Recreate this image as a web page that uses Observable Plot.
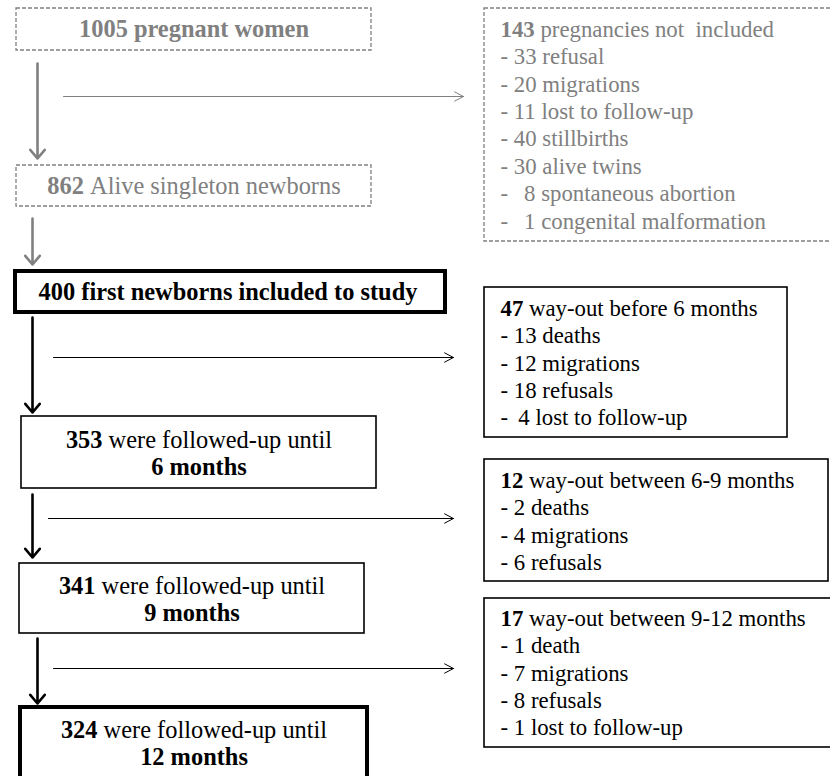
<!DOCTYPE html>
<html><head><meta charset="utf-8">
<script src="https://cdn.jsdelivr.net/npm/d3@7"></script>
<script src="https://cdn.jsdelivr.net/npm/@observablehq/plot@0.6"></script>
<style>html,body{margin:0;padding:0;background:#fff}</style>
</head><body><div id="chart"></div>
<script>
// ---------- data ----------
const enrolledCount = 1005;
const enrolledLabel = "pregnant women";
const aliveCount = 862;
const aliveLabel = "Alive singleton newborns";
const notIncludedCount = 143;
const notIncludedLabel = "pregnancies not\u00A0 included";
const notIncludedReasonCounts = [33, 20, 11, 40, 30, 8, 1];
const notIncludedReasonLabels = ["refusal", "migrations", "lost to follow-up", "stillbirths", "alive twins", "spontaneous abortion", "congenital malformation"];
const studyCount = 400;
const studyLabel = "first newborns included to study";
const followedCounts = [353, 341, 324];
const followedLabel = "were followed-up until";
const followedMonths = ["6 months", "9 months", "12 months"];
const wayOutCounts = [47, 12, 17];
const wayOutLabels = ["way-out before 6 months", "way-out between 6-9 months", "way-out between 9-12 months"];
const wayOutReasonCounts = [[13, 12, 18, 4], [2, 4, 6], [1, 7, 8, 1]];
const wayOutReasonLabels = [["deaths", "migrations", "refusals", "lost to follow-up"], ["deaths", "migrations", "refusals"], ["death", "migrations", "refusals", "lost to follow-up"]];

// ---------- layout (pixel frame of the flowchart) ----------
const W = 830, H = 776;
const GRAY = "#808080", BLACK = "#000";
const FS_MAIN = 24.4, FS_SIDE = 22.8;
const FF = '"Liberation Serif", "Times New Roman", serif';
const LINE_SIDE = 27.4, LINE_MAIN = 27;
const layout = {
  enrolled: {x1: 16, x2: 371, y1: 8, y2: 50, textY: 29},
  alive: {x1: 16, x2: 371, y1: 165, y2: 206, textY: 186},
  notIncluded: {x1: 484, x2: 834, y1: 8, y2: 241, textY: 29, gap1: "\u00A0\u00A0\u2009"},
  study: {x1: 15, x2: 445, y1: 271, y2: 312, textX: 227.5, textY: 292},
  followed: [
    {x1: 21, x2: 376, y1: 416, y2: 488, textY: 440},
    {x1: 19, x2: 364, y1: 563, y2: 633, textY: 586},
    {x1: 20, x2: 367, y1: 707, y2: 782, textY: 730}
  ],
  wayOut: [
    {x1: 484, x2: 787, y1: 287, y2: 437, textY: 308, gap1: "\u00A0\u2009"},
    {x1: 484, x2: 828, y1: 459, y2: 581, textY: 480, gap1: " "},
    {x1: 484, x2: 834, y1: 598, y2: 747, textY: 618, gap1: " "}
  ],
  sideTextX: 500,
  arrowsDown: [
    {x: 37, y1: 63, y2: 158, c: GRAY}, {x: 32, y1: 218, y2: 264, c: GRAY},
    {x: 32, y1: 317, y2: 412, c: BLACK}, {x: 32, y1: 494, y2: 557, c: BLACK},
    {x: 37, y1: 638, y2: 703, c: BLACK}
  ],
  arrowsRight: [
    {x1: 63, x2: 463, y: 96, c: GRAY}, {x1: 53, x2: 453, y: 357, c: BLACK},
    {x1: 48, x2: 453, y: 518, c: BLACK}, {x1: 53, x2: 453, y: 668, c: BLACK}
  ]
};

// ---------- text measurement for mixed bold/regular lines ----------
const ctx = document.createElement("canvas").getContext("2d");
function tw(t, bold, fs) { ctx.font = `${bold ? "bold " : ""}${fs}px ${FF}`; return ctx.measureText(t).width; }
const segs = [];
function addLine(runs, x, y, anchor, color, fs) {
  let total = 0;
  runs.forEach((r, i) => { total += tw(r.t, r.b, fs); if (i < runs.length - 1) total += tw(" ", false, fs); });
  let cx = anchor === "middle" ? x - total / 2 : x;
  runs.forEach((r) => { segs.push({t: r.t, b: r.b, x: cx, y, c: color, fs}); cx += tw(r.t, r.b, fs) + tw(" ", false, fs); });
}
const cxOf = (b) => (b.x1 + b.x2) / 2;

// main column
addLine([{t: `${enrolledCount} ${enrolledLabel}`, b: true}], cxOf(layout.enrolled), layout.enrolled.textY, "middle", GRAY, FS_MAIN);
addLine([{t: `${aliveCount}`, b: true}, {t: aliveLabel, b: false}], cxOf(layout.alive), layout.alive.textY, "middle", GRAY, FS_MAIN);
addLine([{t: `${studyCount} ${studyLabel}`, b: true}], layout.study.textX, layout.study.textY, "middle", BLACK, FS_MAIN);
followedCounts.forEach((n, i) => {
  const b = layout.followed[i];
  addLine([{t: `${n}`, b: true}, {t: followedLabel, b: false}], cxOf(b), b.textY, "middle", BLACK, FS_MAIN);
  addLine([{t: followedMonths[i], b: true}], cxOf(b), b.textY + LINE_MAIN, "middle", BLACK, FS_MAIN);
});
// side boxes
const ni = layout.notIncluded;
addLine([{t: `${notIncludedCount}`, b: true}, {t: notIncludedLabel, b: false}], layout.sideTextX, ni.textY, "start", GRAY, FS_SIDE);
notIncludedReasonCounts.forEach((n, i) => {
  const gap = n < 10 ? ni.gap1 : " ";
  addLine([{t: `-${gap}${n} ${notIncludedReasonLabels[i]}`, b: false}], layout.sideTextX, ni.textY + LINE_SIDE * (i + 1), "start", GRAY, FS_SIDE);
});
wayOutCounts.forEach((n, k) => {
  const b = layout.wayOut[k];
  addLine([{t: `${n}`, b: true}, {t: wayOutLabels[k], b: false}], layout.sideTextX, b.textY, "start", BLACK, FS_SIDE);
  wayOutReasonCounts[k].forEach((m, i) => {
    const gap = m < 10 ? b.gap1 : " ";
    addLine([{t: `-${gap}${m} ${wayOutReasonLabels[k][i]}`, b: false}], layout.sideTextX, b.textY + LINE_SIDE * (i + 1), "start", BLACK, FS_SIDE);
  });
});

const dashedBoxes = [layout.enrolled, layout.alive, layout.notIncluded];
const thinBoxes = [layout.followed[0], layout.followed[1], ...layout.wayOut];
const thickBoxes = [layout.study, layout.followed[2]];

const textOpts = (bold) => ({x: "x", y: "y", text: "t", fill: "c", fontSize: "fs", textAnchor: "start", lineAnchor: "middle",
  fontFamily: FF, fontWeight: bold ? "bold" : "normal"});

const chart = Plot.plot({
  width: W, height: H, margin: 0,
  x: {domain: [0, W], range: [0, W], axis: null},
  y: {domain: [0, H], range: [0, H], axis: null},
  color: {type: "identity"},
  marks: [
    Plot.rect(dashedBoxes, {x1: "x1", x2: "x2", y1: "y1", y2: "y2", fill: "none", stroke: GRAY, strokeWidth: 1.3, strokeDasharray: "4,2"}),
    Plot.rect(thinBoxes, {x1: "x1", x2: "x2", y1: "y1", y2: "y2", fill: "none", stroke: BLACK, strokeWidth: 1.6}),
    Plot.rect(thickBoxes, {x1: "x1", x2: "x2", y1: "y1", y2: "y2", fill: "none", stroke: BLACK, strokeWidth: 4}),
    Plot.arrow(layout.arrowsDown, {x1: "x", x2: "x", y1: "y1", y2: "y2", stroke: "c", strokeWidth: 2.6, headLength: 6.5, headAngle: 80}),
    Plot.arrow(layout.arrowsRight, {x1: "x1", x2: "x2", y1: "y", y2: "y", stroke: "c", strokeWidth: 1, headLength: 15, headAngle: 55}),
    Plot.text(segs.filter(d => d.b), textOpts(true)),
    Plot.text(segs.filter(d => !d.b), textOpts(false))
  ]
});
document.getElementById("chart").appendChild(chart);
</script>
</body></html>
